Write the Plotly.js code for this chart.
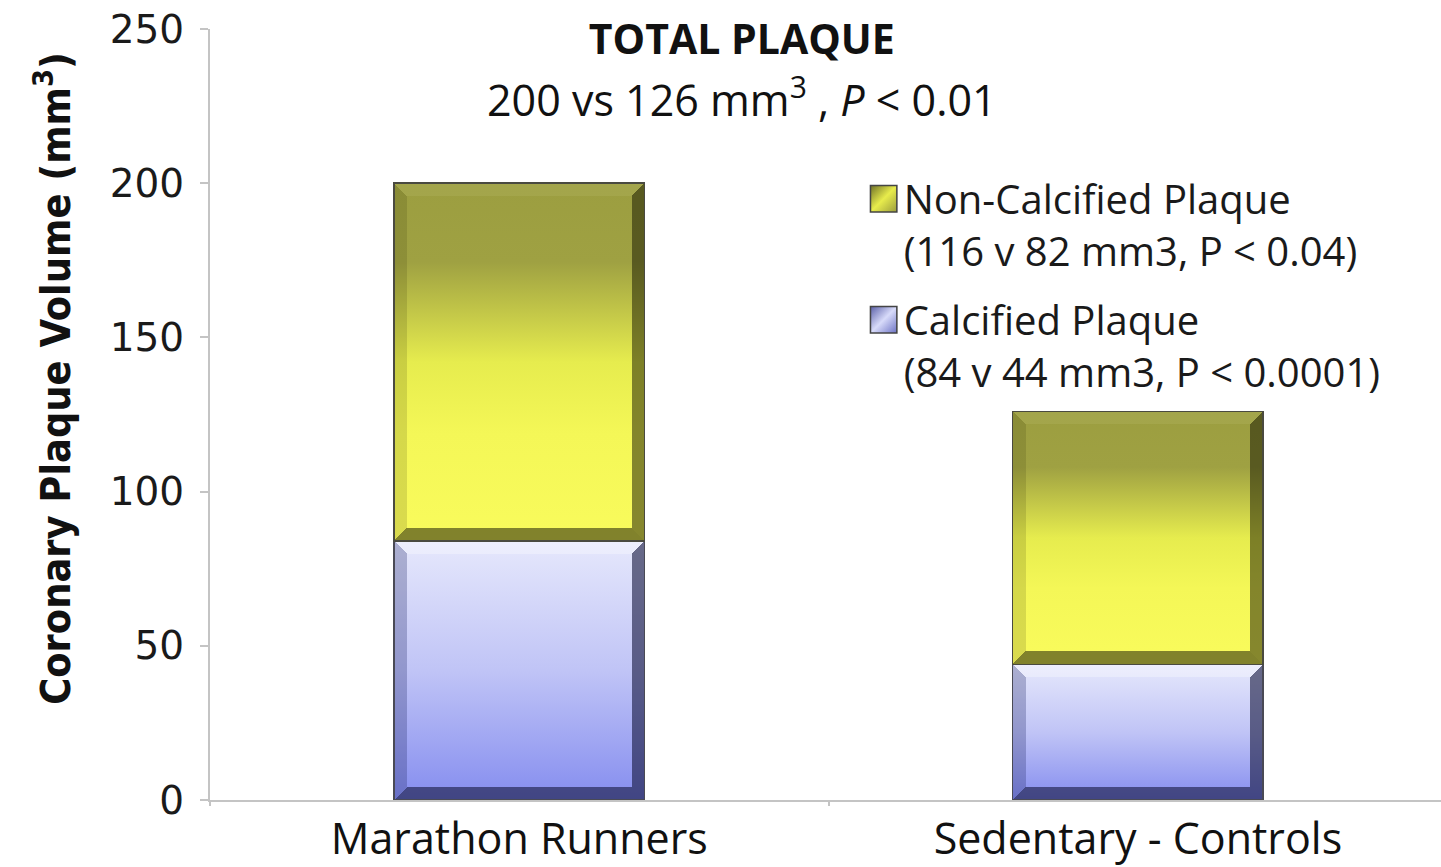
<!DOCTYPE html>
<html>
<head>
<meta charset="utf-8">
<script src="https://cdn.plot.ly/plotly-3.0.1.min.js"></script>
<style>
  html, body { margin: 0; padding: 0; background: #ffffff; }
  #chart { width: 1441px; height: 867px; }
</style>
</head>
<body>
<div id="chart"></div>
<script>
// ---- data ----
const categories = ['Marathon Runners', 'Sedentary - Controls'];
const calcifiedValues = [84, 44];
const nonCalcifiedValues = [116, 82];
const calcifiedName = 'Calcified Plaque<br>(84 v 44 mm3, P &lt; 0.0001)';
const nonCalcifiedName = 'Non-Calcified Plaque<br>(116 v 82 mm3, P &lt; 0.04)';
const yTickValues = [0, 50, 100, 150, 200, 250];
const yTickLabels = ['0', '50', '100', '150', '200', '250'];
const titleText = '<b>TOTAL PLAQUE</b>';
const subtitleText = '200 vs 126 mm<sup>3</sup> , <i>P</i> &lt; 0.01';
const yTitleText = 'Coronary Plaque Volume (mm<sup>3</sup>)';

const data = [
  {
    type: 'bar',
    name: calcifiedName,
    x: categories,
    y: calcifiedValues,
    legendgroup: 'calc',
    legendrank: 2,
    marker: { color: '#b9bdf4', line: { color: '#4a4a55', width: 1.5 } },
    hoverinfo: 'skip'
  },
  {
    type: 'bar',
    name: nonCalcifiedName,
    x: categories,
    y: nonCalcifiedValues,
    legendgroup: 'noncalc',
    legendrank: 1,
    marker: { color: '#e3e64e', line: { color: '#4a4a40', width: 1.5 } },
    hoverinfo: 'skip'
  }
];

const layout = {
  width: 1441,
  height: 867,
  margin: { l: 210, r: 0, t: 29, b: 67 },
  paper_bgcolor: '#ffffff',
  plot_bgcolor: '#ffffff',
  barmode: 'stack',
  bargap: 0.595,
  showlegend: true,
  title: {
    text: titleText,
    font: { family: 'Open Sans', size: 41, color: '#111111' },
    xref: 'paper',
    x: 0.432,
    xanchor: 'center',
    yref: 'container',
    y: 1 - 40 / 867,
    yanchor: 'middle'
  },
  annotations: [
    {
      text: subtitleText,
      xref: 'paper',
      yref: 'paper',
      x: 0.432,
      y: (800 - 97) / 771,
      xanchor: 'center',
      yanchor: 'middle',
      showarrow: false,
      font: { family: 'Open Sans', size: 43, color: '#111111' }
    }
  ],
  legend: {
    x: 0.531,
    y: 0.822,
    xanchor: 'left',
    yanchor: 'top',
    traceorder: 'grouped',
    tracegroupgap: 14,
    valign: 'top',
    bgcolor: 'rgba(0,0,0,0)',
    font: { family: 'Open Sans', size: 40, color: '#1a1a1a' }
  },
  xaxis: {
    type: 'category',
    range: [-0.5, 1.49],
    showline: true,
    linecolor: '#c4c4c4',
    linewidth: 2,
    ticks: 'outside',
    tickson: 'boundaries',
    ticklen: 4,
    tickwidth: 2,
    tickcolor: '#c4c4c4',
    showgrid: false,
    zeroline: false,
    tickfont: { family: 'Open Sans', size: 43, color: '#111111' },
    fixedrange: true
  },
  yaxis: {
    range: [0, 250],
    tickmode: 'array',
    tickvals: yTickValues,
    ticktext: yTickLabels,
    showline: true,
    linecolor: '#c4c4c4',
    linewidth: 2,
    ticks: 'outside',
    ticklen: 8,
    tickwidth: 2,
    tickcolor: '#c4c4c4',
    showgrid: false,
    zeroline: false,
    ticklabelstandoff: 8,
    tickfont: { family: 'DejaVu Sans', size: 39, color: '#1a1a1a' },
    title: {
      text: yTitleText,
      font: { family: '"Liberation Sans Narrow", "DejaVu Sans Condensed", "Open Sans", sans-serif', size: 41, color: '#111111', weight: 'bold' },
      standoff: 10
    },
    fixedrange: true
  }
};

const config = { staticPlot: true, displayModeBar: false, responsive: false };

function svgEl(name, attrs) {
  const el = document.createElementNS('http://www.w3.org/2000/svg', name);
  for (const k in attrs) el.setAttribute(k, attrs[k]);
  return el;
}

function addGradient(defs, id, stops, x2, y2) {
  const g = svgEl('linearGradient', { id: id, x1: '0', y1: '0', x2: x2, y2: y2 });
  stops.forEach(s => g.appendChild(svgEl('stop', { offset: s[0], 'stop-color': s[1] })));
  defs.appendChild(g);
}

function decorate(gd) {
  const svg = gd.querySelector('svg.main-svg');
  let defs = svg.querySelector('defs');
  if (!defs) { defs = svgEl('defs', {}); svg.insertBefore(defs, svg.firstChild); }
  addGradient(defs, 'gradYellow', [
    ['0', '#9c9e40'], ['0.22', '#9fa142'], ['0.5', '#e6ec4e'], ['0.7', '#f4f757'], ['1', '#f9fb5c']
  ], '0', '1');
  addGradient(defs, 'gradBlue', [
    ['0', '#e6e8fc'], ['0.5', '#c0c4f6'], ['1', '#858def']
  ], '0', '1');
  addGradient(defs, 'legYellow', [['0', '#6e7028'], ['0.5', '#e8ec4c'], ['1', '#9a9c3c']], '1', '1');
  addGradient(defs, 'legBlue', [['0', '#5a5fa8'], ['0.5', '#d8dbfa'], ['1', '#6c72c4']], '1', '1');

  const gradIds = ['gradBlue', 'gradYellow'];
  const bevels = [
    { top: 'rgba(255,255,255,0.3)', left: 'rgba(40,45,110,0.3)', right: 'rgba(20,22,60,0.6)', bottom: 'rgba(20,22,60,0.6)' },
    { top: 'rgba(255,255,200,0.08)', left: 'rgba(40,40,0,0.15)', right: 'rgba(20,20,0,0.5)', bottom: 'rgba(20,20,0,0.52)' }
  ];
  gd.querySelectorAll('.barlayer .trace').forEach((tr, i) => {
    tr.querySelectorAll('.point path').forEach(p => {
      p.style.fill = 'url(#' + gradIds[i] + ')';
      const b = p.getBBox();
      const bw = 13;
      const x = b.x, y = b.y, w = b.width, h = b.height;
      const parent = p.parentNode;
      const polys = [
        [bevels[i].top, [[x, y], [x + w, y], [x + w - bw, y + bw], [x + bw, y + bw]]],
        [bevels[i].left, [[x, y], [x + bw, y + bw], [x + bw, y + h - bw], [x, y + h]]],
        [bevels[i].right, [[x + w, y], [x + w, y + h], [x + w - bw, y + h - bw], [x + w - bw, y + bw]]],
        [bevels[i].bottom, [[x, y + h], [x + bw, y + h - bw], [x + w - bw, y + h - bw], [x + w, y + h]]]
      ];
      polys.forEach(pp => {
        parent.appendChild(svgEl('polygon', {
          points: pp[1].map(q => q.join(',')).join(' '),
          fill: pp[0], stroke: 'none'
        }));
      });
      const outline = p.cloneNode(false);
      outline.style.fill = 'none';
      parent.appendChild(outline);
    });
  });

  const legIds = { calc: 'legBlue', noncalc: 'legYellow' };
  gd.querySelectorAll('.legend .traces').forEach(t => {
    const d = t.__data__;
    let grp = null;
    try { grp = d[0].trace.legendgroup; } catch (e) {}
    t.querySelectorAll('.legendpoints path').forEach(p => {
      const tf = p.getAttribute('transform') || '';
      p.setAttribute('transform', tf + ' scale(2.2)');
      p.style.fill = 'url(#' + (legIds[grp] || 'legBlue') + ')';
      p.style.stroke = '#444444';
      p.style.strokeWidth = '0.7px';
    });
  });

  // nudge the y-axis title to sit where the reference puts it
  const yt = gd.querySelector('.g-ytitle text');
  if (yt) {
    const tf = yt.getAttribute('transform') || '';
    yt.setAttribute('transform', 'translate(-16,-36) ' + tf);
  }
}

const gd = document.getElementById('chart');
Plotly.newPlot(gd, data, layout, config).then(() => decorate(gd));
</script>
</body>
</html>
